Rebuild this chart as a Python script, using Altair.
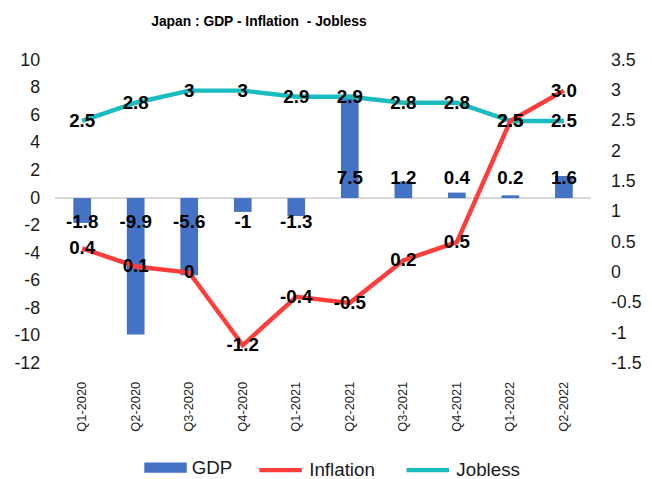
import altair as alt
import pandas as pd

quarters = ["Q1-2020", "Q2-2020", "Q3-2020", "Q4-2020", "Q1-2021",
            "Q2-2021", "Q3-2021", "Q4-2021", "Q1-2022", "Q2-2022"]
gdp = [-1.8, -9.9, -5.6, -1, -1.3, 7.5, 1.2, 0.4, 0.2, 1.6]
gdp_labels = ["-1.8", "-9.9", "-5.6", "-1", "-1.3", "7.5", "1.2", "0.4", "0.2", "1.6"]
inflation = [0.4, 0.1, 0, -1.2, -0.4, -0.5, 0.2, 0.5, 2.5, 3.0]
inflation_labels = ["0.4", "0.1", "0", "-1.2", "-0.4", "-0.5", "0.2", "0.5", "2.5", "3.0"]
jobless = [2.5, 2.8, 3, 3, 2.9, 2.9, 2.8, 2.8, 2.5, 2.5]
jobless_labels = ["2.5", "2.8", "3", "3", "2.9", "2.9", "2.8", "2.8", "2.5", "2.5"]
left_ticks = [-12, -10, -8, -6, -4, -2, 0, 2, 4, 6, 8, 10]
right_ticks = [-1.5, -1, -0.5, 0, 0.5, 1, 1.5, 2, 2.5, 3, 3.5]

FONT = "Liberation Sans"
TXT = "#1a1a1a"
BLUE = "#4472C4"
RED = "#FF3D3D"
TEAL = "#1ABCC0"

gdp_df = pd.DataFrame({"quarter": quarters, "value": gdp, "label": gdp_labels, "series": "GDP"})
lines_df = pd.concat([
    pd.DataFrame({"quarter": quarters, "value": jobless, "label": jobless_labels, "series": "Jobless"}),
    pd.DataFrame({"quarter": quarters, "value": inflation, "label": inflation_labels, "series": "Inflation"}),
], ignore_index=True)

x_enc = alt.X("quarter:N", sort=quarters,
              scale=alt.Scale(paddingInner=0.67, paddingOuter=0.335),
              axis=alt.Axis(title=None, labelAngle=-90, domain=False, ticks=False,
                            labelFontSize=13, labelPadding=18, labelFont=FONT, labelColor=TXT))

left_scale = alt.Scale(domain=[-12, 10], nice=False, zero=False)
left_axis = alt.Axis(orient="left", values=left_ticks, domain=False, ticks=False, grid=False,
                     title=None, labelPadding=16, labelFontSize=18, labelFont=FONT,
                     labelColor=TXT, labelOverlap=False, labelExpr="'' + datum.value")
y_left = alt.Y("value:Q", scale=left_scale, axis=left_axis)
y_zero = alt.YDatum(0, type="quantitative", scale=left_scale, axis=left_axis)

y_right = alt.Y("value:Q", scale=alt.Scale(domain=[-1.5, 3.5], nice=False, zero=False),
                axis=alt.Axis(orient="right", values=right_ticks, domain=False, ticks=False, grid=False,
                              title=None, labelPadding=20, labelFontSize=18, labelFont=FONT,
                              labelColor=TXT, labelOverlap=False, labelExpr="'' + datum.value"))

base_gdp = alt.Chart(gdp_df)

bars = base_gdp.mark_bar().encode(
    x=x_enc, y=y_left,
    color=alt.Color("series:N", scale=alt.Scale(domain=["GDP"], range=[BLUE]),
                    legend=alt.Legend(title=None, orient="none", legendX=90, legendY=391,
                                      symbolType="M-1,-0.24H1V0.24H-1Z", symbolSize=1849,
                                      symbolStrokeWidth=0, labelFontSize=19, labelFont=FONT,
                                      labelColor=TXT, labelOffset=5, padding=0)))

zero_rule = base_gdp.mark_rule(color="#D9D9D9", strokeWidth=1.5).encode(y=y_zero)

gdp_text_pos = base_gdp.transform_filter("datum.value >= 0").mark_text(
    fontSize=19, fontWeight="bold", font=FONT, color="#000", dy=-20).encode(
    x=x_enc, y=y_zero, text="label:N")
gdp_text_neg = base_gdp.transform_filter("datum.value < 0").mark_text(
    fontSize=19, fontWeight="bold", font=FONT, color="#000", dy=24).encode(
    x=x_enc, y=y_zero, text="label:N")

left = alt.layer(zero_rule, bars, gdp_text_pos, gdp_text_neg)

base_lines = alt.Chart(lines_df)
lines = base_lines.mark_line(strokeWidth=4.5).encode(
    x=x_enc, y=y_right,
    stroke=alt.Stroke("series:N", scale=alt.Scale(domain=["Inflation", "Jobless"], range=[RED, TEAL]),
                      legend=alt.Legend(title=None, orient="none", direction="horizontal",
                                        legendX=204, legendY=391, symbolType="stroke",
                                        symbolSize=1849, symbolStrokeWidth=4.5,
                                        labelFontSize=19, labelFont=FONT, labelColor=TXT,
                                        labelOffset=5, columnPadding=22, padding=0)))
line_text = base_lines.mark_text(fontSize=19, fontWeight="bold", font=FONT, color="#000").encode(
    x=x_enc, y=y_right, text="label:N")

right = alt.layer(lines, line_text)

chart = alt.layer(left, right).resolve_scale(y="independent").properties(
    width=542, height=307,
    autosize=alt.AutoSizeParams(type="none"),
    padding={"left": 48, "top": 50, "right": 54, "bottom": 114},
    title=alt.Title("Japan : GDP - Inflation\u00a0 - Jobless", fontSize=14, fontWeight="bold",
                    font=FONT, color="#000", anchor="start", frame="group", dx=97, offset=23),
).configure_view(stroke=None)

chart.save("out.html", embed_options={"renderer": "svg", "actions": False})
